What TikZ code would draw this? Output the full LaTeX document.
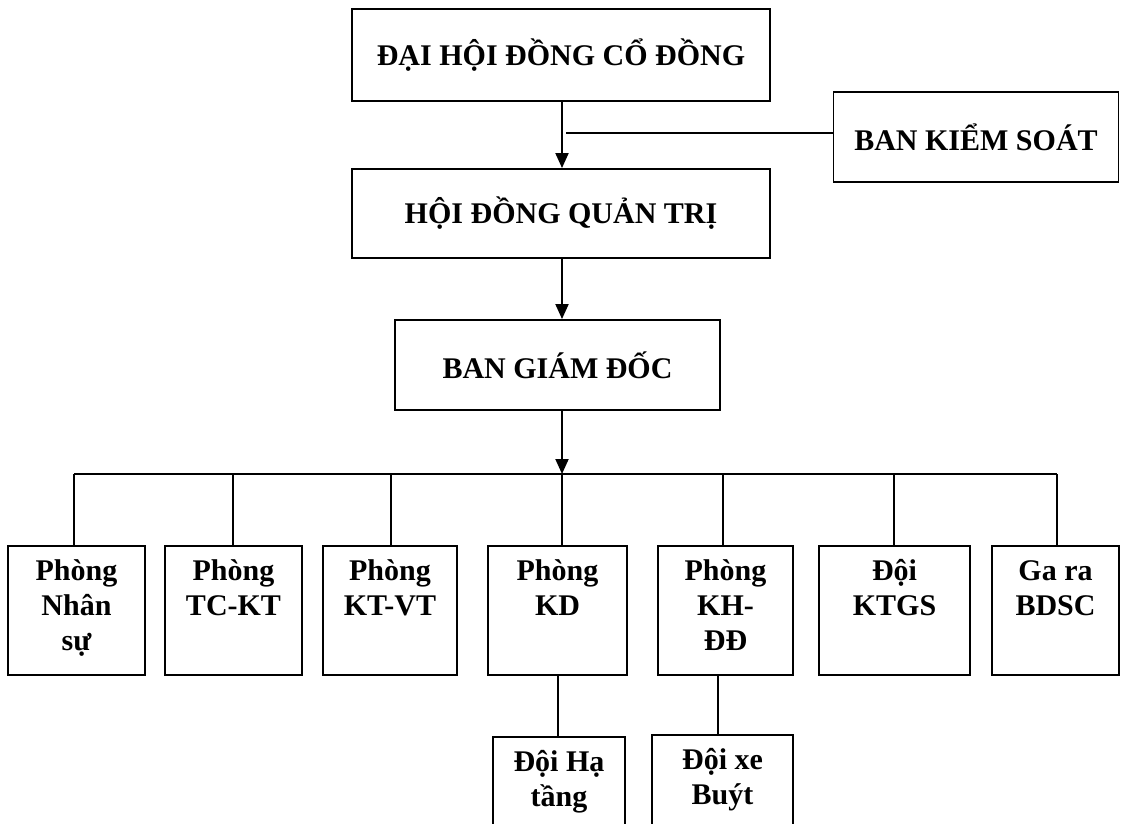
\documentclass[tikz,border=0pt]{standalone}
\usepackage{fontspec}
\setmainfont{Liberation Serif}
\usetikzlibrary{arrows.meta}
\begin{document}
\begin{tikzpicture}[x=1pt,y=-1pt,
  box/.style={draw,line width=1.9pt,inner sep=0pt,align=center,
    font=\bfseries\fontsize{30}{35}\selectfont},
  con/.style={line width=1.9pt},
  arr/.style={line width=1.9pt,-{Triangle[width=13pt,length=15pt]}}]
\useasboundingbox (0,0) rectangle (1121,824);
\clip (0,0) rectangle (1121,824);
% top level
\node[box,minimum width=418pt,minimum height=92pt] (dh) at (561,55) {ĐẠI HỘI ĐỒNG CỔ ĐỒNG};
\node[box,minimum width=418pt,minimum height=89pt] (hd) at (561,213.5) {HỘI ĐỒNG QUẢN TRỊ};
\node[box,minimum width=285pt,minimum height=90pt] (bks) at (976,137) {BAN KIỂM SOÁT};
\node[box,minimum width=325pt,minimum height=90pt] (bgd) at (557.5,365) {BAN GIÁM ĐỐC};
% departments
\node[box,minimum width=137pt,minimum height=129pt] (ns) at (76.5,610.5) {Phòng\\Nhân\\sự\strut};
\node[box,minimum width=137pt,minimum height=129pt] (tc) at (233.5,610.5) {Phòng\\TC-KT\\\strut};
\node[box,minimum width=134pt,minimum height=129pt] (kv) at (390,610.5) {Phòng\\KT-VT\\\strut};
\node[box,minimum width=139pt,minimum height=129pt] (kd) at (557.5,610.5) {Phòng\\KD\\\strut};
\node[box,minimum width=135pt,minimum height=129pt] (kh) at (725.5,610.5) {Phòng\\KH-\\ĐĐ\strut};
\node[box,minimum width=151pt,minimum height=129pt] (kt) at (894.5,610.5) {Đội\\KTGS\\\strut};
\node[box,minimum width=127pt,minimum height=129pt] (ga) at (1055.5,610.5) {Ga ra\\BDSC\\\strut};
% lower units
\node[box,minimum width=132pt,minimum height=128pt] (ht) at (559,801) {Đội Hạ\\tầng\\\strut};
\node[box,minimum width=141pt,minimum height=128pt] (xb) at (722.5,799) {Đội xe\\Buýt\\\strut};
% connectors
\coordinate (ax) at (562,0);
\coordinate (j) at (566,133);
\coordinate (busL) at (74,474);
\coordinate (busR) at (1057,474);
\coordinate (b2) at (233,474);
\coordinate (b3) at (391,474);
\coordinate (b5) at (723,474);
\coordinate (b6) at (894,474);
\coordinate (l1) at (558,0);
\coordinate (l2) at (718,0);
\draw[arr] (dh.south -| ax) -- (hd.north -| ax);
\draw[con] (j) -- (j -| bks.west);
\draw[arr] (hd.south -| ax) -- (bgd.north -| ax);
\draw[arr] (bgd.south -| ax) -- (ax |- busL);
\draw[con] (busL) -- (busR);
\draw[con] (busL) -- (busL |- ns.north);
\draw[con] (b2) -- (b2 |- tc.north);
\draw[con] (b3) -- (b3 |- kv.north);
\draw[con] (ax |- busL) -- (ax |- kd.north);
\draw[con] (b5) -- (b5 |- kh.north);
\draw[con] (b6) -- (b6 |- kt.north);
\draw[con] (busR) -- (busR |- ga.north);
\draw[con] (l1 |- kd.south) -- (l1 |- ht.north);
\draw[con] (l2 |- kh.south) -- (l2 |- xb.north);
\end{tikzpicture}
\end{document}
